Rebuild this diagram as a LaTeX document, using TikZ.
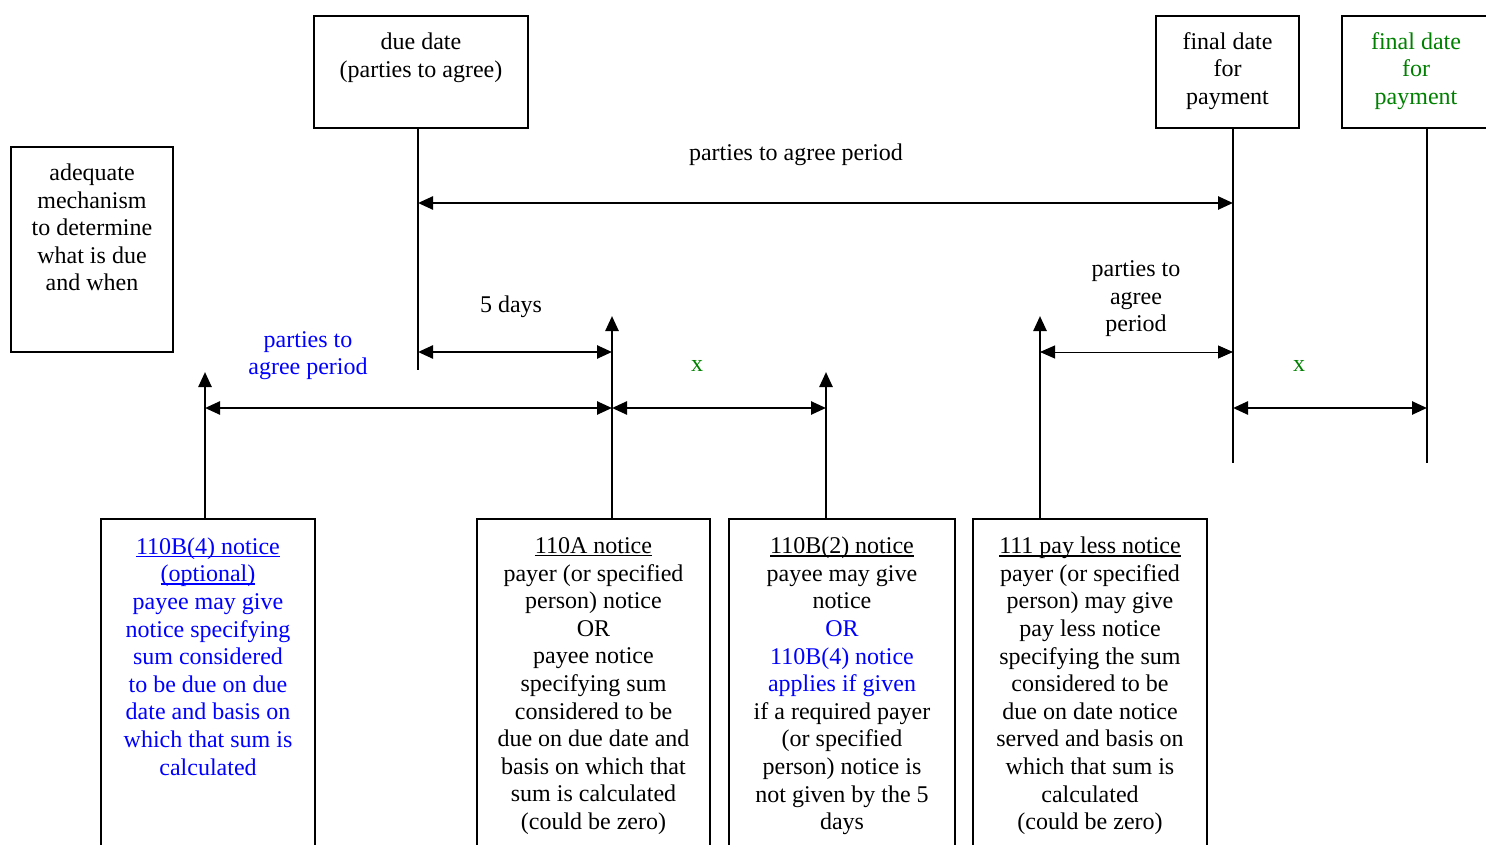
\documentclass[tikz,border=0pt]{standalone}
\usepackage{fontspec}
\setmainfont{Liberation Serif}
\usetikzlibrary{arrows.meta}
\definecolor{dgreen}{RGB}{0,128,0}
\definecolor{pblue}{RGB}{0,0,255}
\newsavebox\ulbx
\newcommand\ulx[1]{\sbox\ulbx{#1}\rlap{\rule[-2.8pt]{\wd\ulbx}{1.3pt}}\usebox\ulbx}
\begin{document}
\begin{tikzpicture}[x=1pt,y=-1pt,
  every node/.style={font=\fontsize{24}{27.6}\selectfont},
  box/.style={draw,line width=2pt,inner sep=0pt,outer sep=0pt},
  txt/.style={align=center,inner sep=0pt},
  tip/.style={-{Triangle[length=15pt,width=13pt]}},
  dbl/.style={{Triangle[length=15pt,width=13pt]}-{Triangle[length=15pt,width=13pt]}},
  thick line/.style={line width=2.5pt},
  tick/.style={line width=1.6pt}]
\useasboundingbox (0,0) rectangle (1486,845);
\clip (0,0) rectangle (1486,845);
% boxes
\node[box,minimum width=214pt,minimum height=112pt] (due) at (421,72) {};
\node[box,minimum width=143pt,minimum height=112pt] (fin) at (1227.5,72) {};
\node[box,minimum width=170pt,minimum height=112pt] (fing) at (1427,72) {};
\node[box,minimum width=162pt,minimum height=205pt] (mech) at (92,249.5) {};
\node[box,minimum width=214pt,minimum height=360pt] (b1) at (208,699) {};
\node[box,minimum width=233pt,minimum height=360pt] (b2) at (593.5,699) {};
\node[box,minimum width=226pt,minimum height=360pt] (b3) at (842,699) {};
\node[box,minimum width=234pt,minimum height=360pt] (b4) at (1090,699) {};
% texts
\node[txt] (tdue) at (421,58) {due date\\(parties to agree)};
\node[txt] (tfin) at (1227.5,71) {final date\\for\\payment};
\node[txt,text=dgreen] (tfing) at (1416,71) {final date\\for\\payment};
\node[txt] (tmech) at (92,227.5) {adequate\\mechanism\\to determine\\what is due\\and when};
\node[txt,text=pblue] (t1) at (208,656.5) {\ulx{110B(4) notice}\\\ulx{(optional)}\\payee may give\\notice specifying\\sum considered\\to be due on due\\date and basis on\\which that sum is\\calculated};
\node[txt] (t2) at (593.5,686) {\ulx{110A notice}\\payer (or specified\\person) notice\\OR\\payee notice\\specifying sum\\considered to be\\due on due date and\\basis on which that\\sum is calculated\\(could be zero)};
\node[txt] (t3) at (842,686) {\ulx{110B(2) notice}\\payee may give\\notice\\\textcolor{pblue}{OR}\\\textcolor{pblue}{110B(4) notice}\\\textcolor{pblue}{applies if given}\\if a required payer\\(or specified\\person) notice is\\not given by the 5\\days};
\node[txt] (t4) at (1090,686) {\ulx{111 pay less notice}\\payer (or specified\\person) may give\\pay less notice\\specifying the sum\\considered to be\\due on date notice\\served and basis on\\which that sum is\\calculated\\(could be zero)};
% labels
\node[txt] (lagree) at (796,155) {parties to agree period};
\node[txt] (l5) at (511,306.5) {5 days};
\node[txt,text=pblue] (lblue) at (308,355.5) {parties to\\agree period};
\node[txt,text=dgreen] (lx1) at (697,366) {x};
\node[txt,text=dgreen] (lx2) at (1299,366) {x};
\node[txt] (lright) at (1136,299) {parties to\\agree\\period};
% coordinates
\coordinate (dueB) at (418,128);
\coordinate (dueE) at (418,370);
\coordinate (finB) at (1233,128);
\coordinate (finE) at (1233,463);
\coordinate (fingB) at (1427,128);
\coordinate (fingE) at (1427,463);
\coordinate (b1T) at (205,519);
\coordinate (b1E) at (205,372);
\coordinate (b2T) at (612,519);
\coordinate (b2E) at (612,316);
\coordinate (b3T) at (826,519);
\coordinate (b3E) at (826,372);
\coordinate (b4T) at (1040,519);
\coordinate (b4E) at (1040,316);
% vertical lines
\draw[line width=2pt] (dueB) -- (dueE);
\draw[tick] (finB) -- (finE);
\draw[tick] (fingB) -- (fingE);
\draw[thick line,tip] (b1T) -- (b1E);
\draw[thick line,tip] (b2T) -- (b2E);
\draw[thick line,tip] (b3T) -- (b3E);
\draw[thick line,tip] (b4T) -- (b4E);
% horizontal double arrows
\draw[thick line,dbl] (dueB |- 0,203) -- (finB |- 0,203);
\draw[thick line,dbl] (dueB |- 0,352) -- (b2T |- 0,352);
\draw[thick line,dbl] (b1T |- 0,408) -- (b2T |- 0,408);
\draw[thick line,dbl] (b2T |- 0,408) -- (b3T |- 0,408);
\draw[line width=1pt,dbl] (b4T |- 0,352) -- (finB |- 0,352);
\draw[thick line,dbl] (finB |- 0,408) -- (fingB |- 0,408);
\end{tikzpicture}
\end{document}
